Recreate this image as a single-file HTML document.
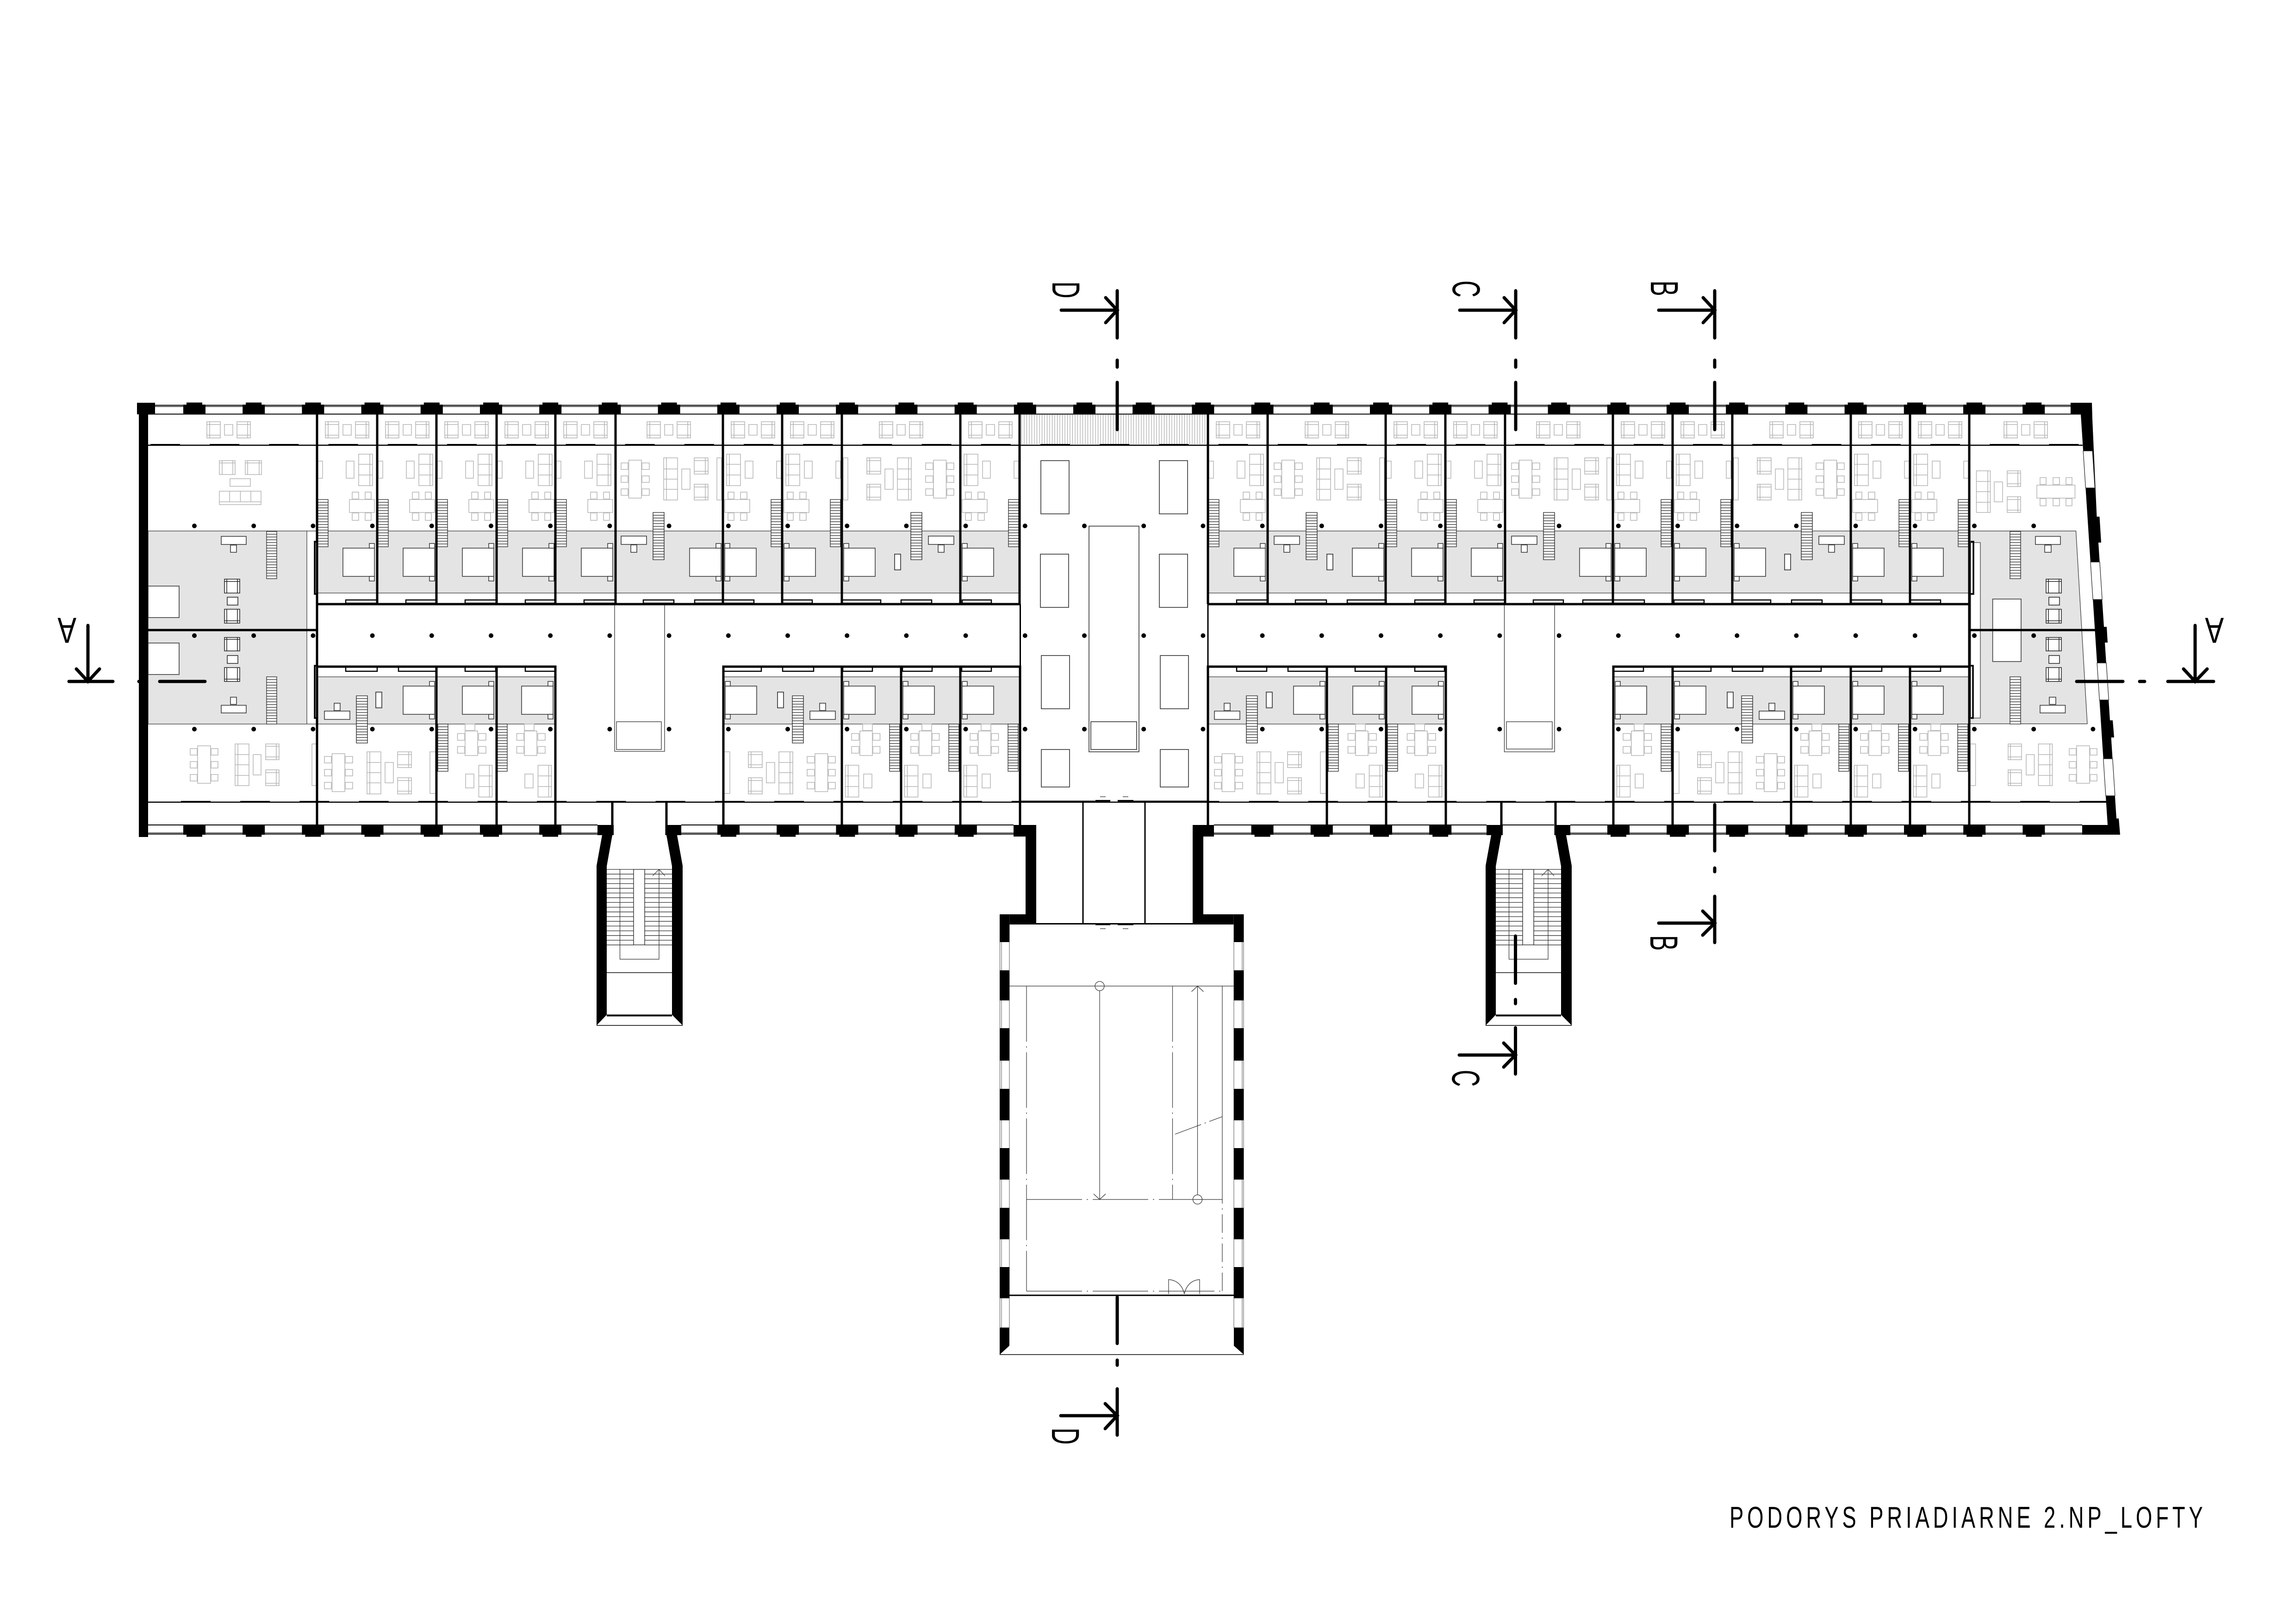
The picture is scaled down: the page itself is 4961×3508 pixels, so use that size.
<!DOCTYPE html>
<html><head><meta charset="utf-8"><title>Podorys</title>
<style>html,body{margin:0;padding:0;background:#fff}svg{display:block}text{font-family:"Liberation Sans",sans-serif;fill:#000}</style></head>
<body>
<svg xmlns="http://www.w3.org/2000/svg" width="4961" height="3508" viewBox="0 0 4961 3508">
<defs>
<pattern id="h" width="5.5" height="10" patternUnits="userSpaceOnUse"><path d="M2 0V10" stroke="#999" stroke-width="1"/></pattern>
<path id="st" fill="#fff" stroke="#222" stroke-width="1.2" d="M0 0h22v102h-22zM0 6h22M0 12h22M0 18h22M0 24h22M0 30h22M0 36h22M0 42h22M0 48h22M0 54h22M0 60h22M0 66h22M0 72h22M0 78h22M0 84h22M0 90h22M0 96h22"/>
<g id="bal" fill="#fff" stroke="#b5b5b5" stroke-width="1.5"><path d="M0 911h29v35h-29zM6 911v35M0 917h29M0 940h29M65 911h29v35h-29zM88 911v35M65 917h29M65 940h29"/><rect x="38" y="917" width="18" height="23"/></g>
<g id="bedT" fill="#fff" stroke="#333" stroke-width="1.5"><rect x="4" y="1184" width="68" height="61"/><rect x="4" y="1174" width="11" height="10"/><rect x="4" y="1245" width="11" height="10"/></g>
<g id="bedB" fill="#fff" stroke="#333" stroke-width="1.5"><rect x="4" y="1482" width="68" height="61"/><rect x="4" y="1472" width="11" height="10"/><rect x="4" y="1543" width="11" height="10"/></g>
<rect id="cab" x="3" y="989" width="10" height="91" fill="#fff" stroke="#b5b5b5" stroke-width="1.5"/>
<rect id="cabB" x="1" y="1624" width="13" height="90" fill="#fff" stroke="#b5b5b5" stroke-width="1.5"/>
<rect id="tb" width="13" height="34" fill="#fff" stroke="#222" stroke-width="1.5"/>
<g id="nt"><g fill="#fff" stroke="#b5b5b5" stroke-width="1.5"><path d="M8 981h30v68h-30zM14 981v68M8 1003h30M8 1026h30"/><rect x="48" y="996" width="17" height="37"/><rect x="116" y="996" width="10" height="37"/><rect x="4" y="1079" width="54" height="28"/><rect x="11" y="1063" width="13" height="15"/><rect x="38" y="1063" width="14" height="15"/><rect x="11" y="1108" width="13" height="16"/><rect x="38" y="1108" width="14" height="16"/></g><use href="#st" x="104" y="1079"/><use href="#bedT"/></g>
<g id="wc" fill="#fff" stroke="#b5b5b5" stroke-width="1.5"><rect x="30.5" y="994" width="27.5" height="82"/><rect x="14" y="1000" width="15" height="14"/><rect x="14" y="1028" width="15" height="14"/><rect x="14" y="1056" width="15" height="14"/><rect x="59" y="1000" width="16" height="14"/><rect x="59" y="1028" width="16" height="14"/><rect x="59" y="1056" width="16" height="14"/><path d="M106 989h30v91h-30zM112 989v91M106 1013h30M106 1035h30M106 1057h30"/><rect x="145" y="1013" width="18" height="44"/><path d="M172 989h30v35h-30zM196 989v35M172 995h30M172 1018h30M172 1046h30v34h-30zM196 1046v34M172 1052h30M172 1074h30"/></g>
<g id="wd"><use href="#st" transform="translate(83,1107) scale(1.09,1)"/><g fill="#fff" stroke="#333" stroke-width="1.5"><rect x="14" y="1158" width="55" height="18"/><rect x="35" y="1177" width="13" height="16"/></g></g>
<g id="nb"><g fill="#fff" stroke="#b5b5b5" stroke-width="1.5"><rect x="45" y="1564" width="21" height="14"/><rect x="39" y="1579" width="27" height="53"/><rect x="21" y="1584.5" width="16" height="14.5"/><rect x="67" y="1584.5" width="15.5" height="14.5"/><rect x="21" y="1612.5" width="16" height="14.5"/><rect x="67" y="1612.5" width="15.5" height="14.5"/><path d="M7.5 1653h29v68.6h-29zM13.5 1653v68.6M7.5 1676h29M7.5 1699h29"/><rect x="47" y="1672" width="18" height="30"/></g><use href="#st" x="103" y="1564"/><use href="#bedB"/></g>
<g id="trio" fill="#fff" stroke="#222" stroke-width="1.5"><path d="M0 1251h33v30h-33zM5 1251v30M28 1251v30M0 1256h33M0 1316h33v30h-33zM5 1316v30M28 1316v30M0 1341h33"/><rect x="6" y="1290" width="23" height="17"/><path d="M0 1377h33v29h-33zM5 1377v29M28 1377v29M0 1381h33M0 1442h33v30h-33zM5 1442v30M28 1442v30M0 1467h33"/><rect x="6" y="1416" width="23" height="17"/></g>
<g id="wdin" fill="#fff" stroke="#b5b5b5" stroke-width="1.5"><rect x="16" y="5" width="28" height="81"/><rect x="0" y="11" width="15" height="14"/><rect x="0" y="39" width="15" height="14"/><rect x="0" y="67" width="15" height="14"/><rect x="45" y="11" width="15" height="14"/><rect x="45" y="39" width="15" height="14"/><rect x="45" y="67" width="15" height="14"/></g>
<g id="ms">
<path fill="none" stroke="#333" stroke-width="1.3" d="M1311 1878H1369M1393 1878H1452M1311 1888.2H1369M1393 1888.2H1452M1311 1898.4H1369M1393 1898.4H1452M1311 1908.6H1369M1393 1908.6H1452M1311 1918.8H1369M1393 1918.8H1452M1311 1929H1369M1393 1929H1452M1311 1939.2H1369M1393 1939.2H1452M1311 1949.4H1369M1393 1949.4H1452M1311 1959.6H1369M1393 1959.6H1452M1311 1969.8H1369M1393 1969.8H1452M1311 1980H1369M1393 1980H1452M1311 1990.2H1369M1393 1990.2H1452M1311 2000.4H1369M1393 2000.4H1452M1311 2010.6H1369M1393 2010.6H1452M1311 2020.8H1369M1393 2020.8H1452M1311 2031H1369M1393 2031H1452M1311 2041.2H1369M1393 2041.2H1452"/>
<rect x="1369" y="1878" width="24" height="163" fill="#fff" stroke="#222" stroke-width="1.3"/>
<path fill="none" stroke="#333" stroke-width="1.2" d="M1339.5 1877V2072H1424V1878M1410 1892L1424 1878L1437 1892"/>
<path d="M1311 2101H1452" stroke="#111" stroke-width="1.5"/>
<path fill="#000" d="M1301 1804H1323L1311 1871V2192L1289 2215V1870ZM1440 1804H1463L1475 1870V2215L1452 2192V1871Z"/>
<path d="M1311 2193.5H1452" stroke="#000" stroke-width="4"/>
<path d="M1289 2215H1475" stroke="#000" stroke-width="1.5"/>
<path d="M1323 1730V1804M1440 1730V1804" stroke="#000" stroke-width="5"/>
<rect x="1291" y="1782" width="35" height="22"/><rect x="1438" y="1782" width="34" height="22"/>
</g>
</defs>
<rect width="4961" height="3508" fill="#fff"/>

<!-- grey zones -->
<g fill="#e4e4e4" stroke="#333" stroke-width="1.2">
<rect x="320" y="1147" width="343" height="214"/><rect x="320" y="1361" width="343" height="203"/>
<path d="M4257 1147H4485.5L4510 1563.5H4257Z"/>
<rect x="685" y="1147" width="1518" height="134"/><rect x="2610" y="1147" width="1645" height="134"/>
<rect x="685" y="1462" width="515" height="102"/><rect x="1563" y="1462" width="641" height="102"/>
<rect x="2610" y="1462" width="514" height="102"/><rect x="3486" y="1462" width="769" height="102"/>
</g>
<path d="M663 1147H685M663 1564H685" stroke="#333" stroke-width="1.2"/>
<rect x="4258" y="1172" width="21" height="379" fill="#fff" stroke="#333" stroke-width="1.2"/>

<!-- hatch -->
<rect x="2207" y="896" width="400" height="63" fill="url(#h)"/>

<!-- hall -->
<g fill="#fff" stroke="#333" stroke-width="1.6">
<rect x="2249" y="995" width="61" height="115"/><rect x="2505" y="995" width="61" height="115"/>
<rect x="2248" y="1197" width="61" height="115"/><rect x="2505" y="1197" width="61" height="115"/>
<rect x="2250" y="1416" width="61" height="115"/><rect x="2507" y="1416" width="61" height="115"/>
<rect x="2250" y="1619" width="61" height="81"/><rect x="2507" y="1619" width="61" height="81"/>
<rect x="2353" y="1136.5" width="108" height="487.5"/><rect x="2357" y="1559" width="99" height="60"/>
</g>
<!-- voids -->
<g fill="none" stroke="#333" stroke-width="1.3">
<path d="M1328 1307V1623H1436V1307"/><rect x="1332" y="1559" width="97" height="60"/>
<path d="M3250.5 1307V1624H3359V1307"/><rect x="3255" y="1559" width="99" height="59"/>
</g>

<!-- balcony sets -->
<use href="#bal" x="447"/><use href="#bal" x="703"/><use href="#bal" x="833"/><use href="#bal" x="961"/><use href="#bal" x="1091"/><use href="#bal" x="1218"/>
<use href="#bal" x="1398"/><use href="#bal" x="1580"/><use href="#bal" x="1708"/><use href="#bal" x="1900"/><use href="#bal" x="2093"/>
<use href="#bal" x="2628"/><use href="#bal" x="2820"/><use href="#bal" x="3012"/><use href="#bal" x="3141"/><use href="#bal" x="3320"/><use href="#bal" x="3503"/><use href="#bal" x="3632"/><use href="#bal" x="3824"/><use href="#bal" x="4016"/><use href="#bal" x="4145"/><use href="#bal" x="4330"/>

<!-- narrow top rooms -->
<use href="#nt" transform="translate(1562,0)"/><use href="#nt" transform="translate(1690,0)"/><use href="#nt" transform="translate(2075,0)"/><use href="#nt" transform="translate(3485,0)"/><use href="#nt" transform="translate(3614,0)"/><use href="#nt" transform="translate(3999,0)"/><use href="#nt" transform="translate(4127,0)"/>
<use href="#nt" transform="translate(813,0) scale(-1,1)"/><use href="#nt" transform="translate(943,0) scale(-1,1)"/><use href="#nt" transform="translate(1071,0) scale(-1,1)"/><use href="#nt" transform="translate(1201,0) scale(-1,1)"/><use href="#nt" transform="translate(1328,0) scale(-1,1)"/><use href="#nt" transform="translate(2738,0) scale(-1,1)"/><use href="#nt" transform="translate(3122,0) scale(-1,1)"/><use href="#nt" transform="translate(3251,0) scale(-1,1)"/>

<!-- wide top rooms -->
<use href="#wc" transform="translate(1328,0)"/><use href="#wd" transform="translate(1328,0)"/><use href="#bedT" transform="translate(1562,0) scale(-1,1)"/><use href="#cab" transform="translate(1562,0) scale(-1,1)"/>
<use href="#wc" transform="translate(2075,0) scale(-1,1)"/><use href="#wd" transform="translate(2075,0) scale(-1,1)"/><use href="#bedT" transform="translate(1819,0)"/><use href="#cab" transform="translate(1819,0)"/><use href="#tb" x="1933" y="1197"/>
<use href="#wc" transform="translate(2739,0)"/><use href="#wd" transform="translate(2739,0)"/><use href="#bedT" transform="translate(2994,0) scale(-1,1)"/><use href="#cab" transform="translate(2994,0) scale(-1,1)"/><use href="#tb" x="2867" y="1197"/>
<use href="#wc" transform="translate(3252,0)"/><use href="#wd" transform="translate(3252,0)"/><use href="#bedT" transform="translate(3485,0) scale(-1,1)"/><use href="#cab" transform="translate(3485,0) scale(-1,1)"/>
<use href="#wc" transform="translate(3999,0) scale(-1,1)"/><use href="#wd" transform="translate(3999,0) scale(-1,1)"/><use href="#bedT" transform="translate(3743,0)"/><use href="#cab" transform="translate(3743,0)"/><use href="#tb" x="3856" y="1197"/>

<!-- narrow bottom rooms -->
<use href="#nb" transform="translate(1819,0)"/><use href="#nb" transform="translate(1947,0)"/><use href="#nb" transform="translate(2075,0)"/><use href="#nb" transform="translate(3486,0)"/><use href="#nb" transform="translate(3870,0)"/><use href="#nb" transform="translate(3999,0)"/><use href="#nb" transform="translate(4127,0)"/>
<use href="#nb" transform="translate(1071,0) scale(-1,1)"/><use href="#nb" transform="translate(1199,0) scale(-1,1)"/><use href="#nb" transform="translate(2995,0) scale(-1,1)"/><use href="#nb" transform="translate(3123,0) scale(-1,1)"/>

<!-- wide bottom rooms -->
<use href="#wc" transform="translate(687,2704) scale(1,-1)"/><use href="#wd" transform="translate(687,2712) scale(1,-1)"/><use href="#bedB" transform="translate(943,0) scale(-1,1)"/><use href="#cabB" transform="translate(943,0) scale(-1,1)"/><use href="#tb" x="812" y="1495"/>
<use href="#wc" transform="translate(1819,2704) scale(-1,-1)"/><use href="#wd" transform="translate(1819,2712) scale(-1,-1)"/><use href="#bedB" transform="translate(1563,0)"/><use href="#cabB" transform="translate(1563,0)"/><use href="#tb" x="1680" y="1495"/>
<use href="#wc" transform="translate(2610,2704) scale(1,-1)"/><use href="#wd" transform="translate(2610,2712) scale(1,-1)"/><use href="#bedB" transform="translate(2867,0) scale(-1,1)"/><use href="#cabB" transform="translate(2867,0) scale(-1,1)"/><use href="#tb" x="2736" y="1495"/>
<use href="#wc" transform="translate(3870,2704) scale(-1,-1)"/><use href="#wd" transform="translate(3870,2712) scale(-1,-1)"/><use href="#bedB" transform="translate(3614,0)"/><use href="#cabB" transform="translate(3614,0)"/><use href="#tb" x="3732" y="1495"/>

<!-- west room -->
<g fill="#fff" stroke="#b5b5b5" stroke-width="1.5">
<path d="M474 995h34v30h-34zM474 1000h34M480 995v30M503 995v30M530 995h35v30h-35zM530 1000h35M535 995v30M560 995v30"/>
<rect x="497" y="1034" width="44" height="16.5"/>
<path d="M474 1061h90v29h-90zM474 1084h90M496 1061v23M519.5 1061v23M542 1061v23"/>
<rect x="674" y="1607" width="11" height="90"/>
</g>
<use href="#wdin" x="411" y="1606"/>
<g fill="#fff" stroke="#b5b5b5" stroke-width="1.5">
<path d="M508 1607h30v90h-30zM514 1607v90M508 1630h30M508 1652h30M508 1675h30"/><rect x="547" y="1630" width="17" height="44"/>
<path d="M574 1607h29v34h-29zM597 1607v34M574 1612h29M574 1635h29M574 1663h29v34h-29zM597 1663v34M574 1669h29M574 1692h29"/>
</g>
<g fill="#fff" stroke="#333" stroke-width="1.5">
<rect x="320" y="1266" width="67" height="68"/><rect x="320" y="1389" width="67" height="68"/>
<rect x="478" y="1158.6" width="54" height="17.5"/><rect x="498" y="1177.5" width="13" height="15.5"/>
<rect x="478" y="1523.5" width="54" height="16.5"/><rect x="498" y="1506" width="13" height="15.5"/>
</g>
<use href="#st" x="576" y="1148"/><use href="#st" x="576" y="1462"/>
<use href="#trio" x="485"/>

<!-- east room -->
<g fill="#fff" stroke="#b5b5b5" stroke-width="1.5">
<path d="M4270.5 1017h30v90h-30zM4295 1017v90M4270.5 1040h30M4270.5 1062h30M4270.5 1085h30"/><rect x="4309" y="1041" width="18" height="43"/>
<path d="M4337 1017h29v34h-29zM4360 1017v34M4337 1022h29M4337 1045h29M4337 1073h29v34h-29zM4360 1073v34M4337 1079h29M4337 1102h29"/>
<rect x="4401" y="1048" width="82.5" height="28"/>
<rect x="4408" y="1031.6" width="13" height="15"/><rect x="4436" y="1031.6" width="14" height="15"/><rect x="4464" y="1031.6" width="13" height="15"/>
<rect x="4408" y="1077" width="13" height="15.6"/><rect x="4436" y="1077" width="14" height="15.6"/><rect x="4464" y="1077" width="13" height="15.6"/>
<rect x="4257" y="1607" width="11.6" height="90"/>
<path d="M4339 1607h29v34h-29zM4344 1607v34M4339 1612h29M4339 1635h29M4339 1663h29v34h-29zM4344 1663v34M4339 1669h29M4339 1692h29"/>
<rect x="4378" y="1630" width="17.5" height="44"/>
<path d="M4404.5 1607h30v90h-30zM4429 1607v90M4404.5 1630h30M4404.5 1652h30M4404.5 1675h30"/>
</g>
<use href="#wdin" x="4471" y="1606"/>
<g fill="#fff" stroke="#333" stroke-width="1.5">
<rect x="4305.6" y="1294" width="61.4" height="135"/>
<rect x="4398" y="1158.6" width="54" height="17.5"/><rect x="4418" y="1177.5" width="14" height="15.5"/>
<rect x="4408" y="1523.5" width="54.5" height="16.5"/><rect x="4428" y="1506" width="14" height="15.5"/>
</g>
<use href="#st" transform="translate(4343,1148) scale(1.05,1)"/><use href="#st" transform="translate(4343,1462) scale(1.05,1)"/>
<use href="#trio" x="4421"/>

<!-- balcony stepped lines -->
<g stroke="#000" fill="none">
<path d="M320 961.8H4500" stroke-width="2.5"/><path d="M325 960.3H4500" stroke-width="2.5" stroke-dasharray="64 64.2"/>
<path d="M320 1732.8H4553" stroke-width="2.5"/><path d="M391 1731.3H4553" stroke-width="2.5" stroke-dasharray="64 64.2"/>
</g>

<!-- door boxes -->
<path fill="#fff" stroke="#000" stroke-width="2.5" d="M747 1296h68v7h-68zM877 1296h66v7h-66zM1005 1296h68v7h-68zM1135 1296h65v7h-65zM1262 1296h68v7h-68zM1390 1296h66v7h-66zM1501 1296h128v7h-128zM1690 1296h65v7h-65zM1819 1296h84v7h-84zM1947 1296h66v7h-66zM2079 1296h63v7h-63zM2672 1296h67v7h-67zM2799 1296h67v7h-67zM2911 1296h82v7h-82zM3057 1296h65v7h-65zM3185 1296h67v7h-67zM3313 1296h65v7h-65zM3420 1296h133v7h-133zM3617 1296h65v7h-65zM3743 1296h83v7h-83zM3871 1296h66v7h-66zM4000 1296h66v7h-66zM4127 1296h66v7h-66z"/>
<path fill="#fff" stroke="#000" stroke-width="2.5" d="M747 1441h68v9h-68zM861 1441h81v9h-81zM1005 1441h66v9h-66zM1135 1441h64v9h-64zM1564 1441h81v9h-81zM1691 1441h67v9h-67zM1821 1441h64v9h-64zM1950 1441h64v9h-64zM2078 1441h64v9h-64zM2672 1441h65v9h-65zM2783 1441h83v9h-83zM2928 1441h66v9h-66zM3057 1441h64v9h-64zM3486 1441h65v9h-65zM3615 1441h82v9h-82zM3743 1441h66v9h-66zM3870 1441h65v9h-65zM3999 1441h67v9h-67zM4127 1441h66v9h-66z"/>

<!-- partition walls -->
<path fill="none" stroke="#000" stroke-width="5" d="M685 895V1782M815 895V1305M943 895V1305M1073 895V1305M1200 895V1305M1330 895V1305M1562 895V1305M1690 895V1305M1819 895V1305M2075 895V1305M2203 895V1305M2610 895V1305M2739 895V1305M2994 895V1305M3123 895V1305M3252 895V1305M3485 895V1305M3614 895V1305M3743 895V1305M3999 895V1305M4127 895V1305M4255 895V1782
M943 1440V1782M1073 1440V1782M1200 1437.5V1782M1563 1437.5V1782M1819 1440V1782M1947 1440V1782M2075 1440V1782M2204 1437.5V1782M2610 1437.5V1782M2867 1440V1782M2995 1440V1782M3124 1437.5V1782M3486 1437.5V1782M3614 1440V1782M3870 1440V1782M3999 1440V1782M4127 1440V1782
M685 1305H2203M2610 1305H4255M685 1440H1200M1563 1440H2204M2610 1440H3124M3486 1440H4255M320 1361H685M4255 1361H4528"/>
<path d="M2204.5 1305V1438M2610 1305V1438" stroke="#000" stroke-width="3"/>
<path fill="none" stroke="#000" stroke-width="3.5" d="M685 1170H680V1283H685M685 1438H680V1551H685M4258 1170H4264V1283H4258M4258 1438H4263V1551H4258"/>

<!-- north facade -->
<rect x="335" y="874" width="4139" height="4.5" fill="#555"/>
<path d="M335 879H4474" stroke="#aaa" stroke-width="1"/>
<path d="M320 894.5H4496" stroke="#000" stroke-width="2"/>
<line x1="396" y1="884.5" x2="4419" y2="884.5" stroke="#000" stroke-width="21" stroke-dasharray="48 80.2"/>
<line x1="403" y1="872" x2="4412" y2="872" stroke="#000" stroke-width="5" stroke-dasharray="34 94.2"/>

<!-- south facade -->
<g>
<path d="M320 1782H1291M1472 1782H2190M2623 1782H3212M3246 1782H3358M3393 1782H4499" stroke="#000" stroke-width="2"/>
<path d="M320 1801H1301M1463 1801H2190M2623 1801H3222M3384 1801H4499" stroke="#555" stroke-width="4.5"/>
<path d="M320 1798H1301M1463 1798H2190M2623 1798H3222M3384 1798H4499" stroke="#aaa" stroke-width="1"/>
<g stroke="#000" stroke-width="21">
<line x1="396" y1="1792.5" x2="1213" y2="1792.5" stroke-dasharray="48 80.2"/>
<line x1="1550" y1="1792.5" x2="2111" y2="1792.5" stroke-dasharray="48 80.2"/>
<line x1="2703.6" y1="1792.5" x2="3137" y2="1792.5" stroke-dasharray="48 80.2"/>
<line x1="3473" y1="1792.5" x2="4419" y2="1792.5" stroke-dasharray="48 80.2"/>
</g>
<g stroke="#000" stroke-width="5">
<line x1="403" y1="1805" x2="1206" y2="1805" stroke-dasharray="34 94.2"/>
<line x1="1557" y1="1805" x2="2104" y2="1805" stroke-dasharray="34 94.2"/>
<line x1="2710.6" y1="1805" x2="3130" y2="1805" stroke-dasharray="34 94.2"/>
<line x1="3480" y1="1805" x2="4412" y2="1805" stroke-dasharray="34 94.2"/>
</g>
</g>

<!-- west & east outer walls -->
<rect x="300" y="870" width="20" height="938"/><rect x="296" y="870" width="39" height="25"/>
<path fill="#000" d="M4474 870H4520L4521 905L4530.5 1116H4536.5L4540 1172H4534L4546 1354H4552L4554 1388H4548L4559 1556H4565L4568 1593H4561.6L4573 1768H4578L4581 1803H4499V1782H4554L4496 895H4474Z"/>
<g fill="#fff" stroke="#222" stroke-width="1.2">
<path d="M4501.2 974H4521.2L4526.4 1054H4506.4Z"/><path d="M4516.9 1214H4536.9L4542.2 1295H4522.2Z"/><path d="M4531.1 1432H4551.1L4556.4 1512H4536.4Z"/><path d="M4544.7 1639H4564.7L4569.9 1719H4549.9Z"/>
</g>

<!-- stairs -->
<use href="#ms"/>
<use href="#ms" transform="translate(1921,0)"/>
<path d="M3246 1782H3358" stroke="#000" stroke-width="2"/>

<!-- neck & south wing -->
<g fill="#000">
<rect x="2190" y="1782" width="49" height="25"/><rect x="2577" y="1782" width="46" height="25"/>
<rect x="2216" y="1782" width="23" height="215"/><rect x="2577" y="1782" width="23" height="215"/>
<rect x="2160" y="1975" width="79" height="22"/><rect x="2577" y="1975" width="110.5" height="22"/>
</g>
<path d="M2239 1995.5H2577" stroke="#000" stroke-width="3"/>
<path d="M2340 1731V1996M2474 1731V1996" stroke="#000" stroke-width="3"/>
<path d="M2206 1731H2399M2415 1731H2608" stroke="#000" stroke-width="3"/>
<path d="M2367 1729.5H2399M2415 1729.5H2449M2367 1997H2399M2415 1997H2449" stroke="#000" stroke-width="3"/>
<path d="M2377 1721H2389M2426 1721H2438M2377 2006H2389M2426 2006H2438" stroke="#333" stroke-width="1.2"/>
<path d="M2160.5 1975V2926M2164 1975V2868M2181 1975V2868M2666 1975V2868M2684 1975V2868M2687 1975V2926" stroke="#555" stroke-width="1" fill="none"/>
<g fill="#000">
<rect x="2160" y="1975" width="21" height="60"/><rect x="2160" y="2096" width="21" height="65"/><rect x="2160" y="2221" width="21" height="70"/><rect x="2160" y="2352" width="21" height="68"/><rect x="2160" y="2480" width="21" height="68"/><rect x="2160" y="2609" width="21" height="68"/><rect x="2160" y="2737" width="21" height="67"/>
<rect x="2666" y="1975" width="21.5" height="60"/><rect x="2666" y="2096" width="21.5" height="65"/><rect x="2666" y="2221" width="21.5" height="70"/><rect x="2666" y="2352" width="21.5" height="68"/><rect x="2666" y="2480" width="21.5" height="68"/><rect x="2666" y="2609" width="21.5" height="68"/><rect x="2666" y="2737" width="21.5" height="67"/>
<path d="M2160 2868H2181V2907L2160 2926Z"/><path d="M2666 2868H2687.5V2926L2666 2907Z"/>
</g>
<path d="M2160 2804H2181M2666 2804H2687M2160 2868H2181M2666 2868H2687" stroke="#333" stroke-width="1"/>
<path d="M2160 2926H2687.5" stroke="#000" stroke-width="1.6"/>
<path d="M2181 2798H2666" stroke="#000" stroke-width="3"/>
<g fill="none" stroke="#333" stroke-width="1.2">
<path d="M2181 2130H2666"/>
<path d="M2218 2130V2789" stroke-dasharray="120 10 3 10"/>
<path d="M2533.5 2130V2591" stroke-dasharray="120 10 3 10"/>
<path d="M2641 2130V2560"/><path d="M2641 2560V2789" stroke-dasharray="40 10 3 10"/>
<path d="M2218 2591H2533" stroke-dasharray="120 10 3 10"/><path d="M2533 2591H2641"/>
<path d="M2218 2789H2641" stroke-dasharray="120 10 3 10"/>
<path d="M2539 2450L2641 2412" stroke-dasharray="60 8 3 8"/>
<path d="M2376 2140V2591M2363 2579L2376 2591L2389 2579"/>
<ellipse cx="2376" cy="2130" rx="10" ry="10"/>
<path d="M2587.5 2581V2130M2574.5 2142L2587.5 2130L2600.5 2142"/>
<ellipse cx="2587.5" cy="2591" rx="10" ry="10"/>
<path d="M2525 2795V2764Q2552 2766 2559 2795M2592 2795V2764Q2566 2766 2559 2795"/>
</g>

<!-- columns -->
<g stroke="#000" stroke-width="10" stroke-linecap="round">
<line x1="420" y1="1136" x2="4396" y2="1136" stroke-dasharray="0 128.2"/>
<line x1="420" y1="1373" x2="4396" y2="1373" stroke-dasharray="0 128.2"/>
<line x1="420" y1="1575" x2="4525" y2="1575" stroke-dasharray="0 128.2"/>
</g>

<!-- section marks -->
<g stroke="#000" stroke-width="7" stroke-linecap="round" fill="none">
<path d="M2414 628V730M2293 670H2414M2389 643L2414 670L2389 697M2414 778V793M2414 826V928"/>
<path d="M3275 628V730M3154 670H3275M3250 643L3275 670L3250 697M3275 778V793M3275 826V928"/>
<path d="M3705 628V730M3584 670H3705M3680 643L3705 670L3680 697M3705 778V793M3705 826V928"/>
<path d="M2414 2802V2902M2414 2938V2949M2414 3000V3100M2292 3058H2414M2388 3032L2414 3058L2388 3086"/>
<path d="M3274.5 2022V2124M3274.5 2159V2168M3274.5 2220V2320M3153 2279H3274.5M3249 2253L3274.5 2279L3249 2305"/>
<path d="M3705 1738V1838M3705 1875V1883M3705 1936V2036M3584 1994H3705M3679 1968L3705 1994L3679 2020"/>
<path d="M4684 1472H4783M4743 1351V1472M4718 1445L4743 1472L4769 1445M4623 1472H4634M4487 1472H4587"/>
<path d="M149 1472H244M190 1351V1472M165 1445L190 1472L215 1445M300 1472H301M345 1472H443"/>
</g>

<!-- letters -->
<g font-size="84">
<text transform="translate(2274,608) rotate(90) scale(.6,1)">D</text>
<text transform="translate(3139,606) rotate(90) scale(.6,1)">C</text>
<text transform="translate(3567,606) rotate(90) scale(.6,1)">B</text>
<text transform="translate(2273,3084) rotate(90) scale(.6,1)">D</text>
<text transform="translate(3138,2311) rotate(90) scale(.6,1)">C</text>
<text transform="translate(3566,2020) rotate(90) scale(.6,1)">B</text>
</g>
<g font-size="78">
<text transform="translate(4805,1335) rotate(180) scale(.78,1)">A</text>
<text transform="translate(165,1335) rotate(180) scale(.78,1)">A</text>
</g>
<text transform="translate(3737,3300) scale(.7,1)" font-size="65" textLength="1461" lengthAdjust="spacing">PODORYS PRIADIARNE 2.NP_LOFTY</text>
</svg>
</body></html>
